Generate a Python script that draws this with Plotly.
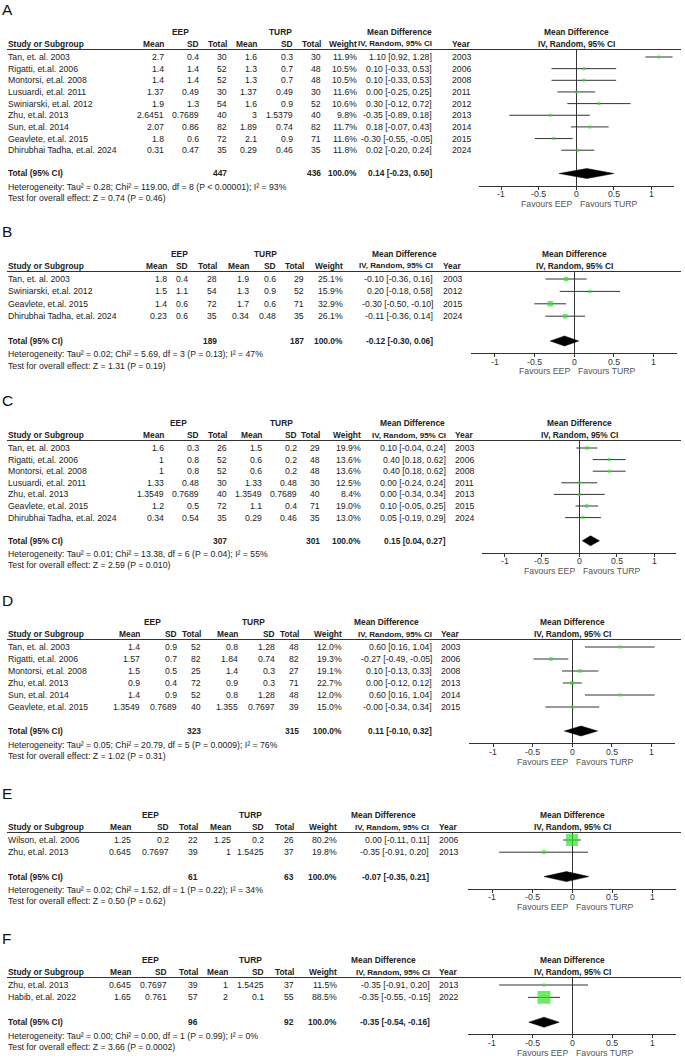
import plotly.graph_objects as go

W, H = 685, 1058
FONT = "Liberation Sans, Arial, sans-serif"

# ------------------------- DATA -------------------------
# Panel A
A_study = ["Tan, et. al. 2003", "Rigatti, et.al. 2006", "Montorsi, et.al. 2008", "Lusuardi, et.al. 2011",
           "Swiniarski, et.al. 2012", "Zhu, et.al. 2013", "Sun, et.al. 2014", "Geavlete, et.al. 2015",
           "Dhirubhai Tadha, et.al. 2024"]
A_eep_mean = ["2.7", "1.4", "1.4", "1.37", "1.9", "2.6451", "2.07", "1.8", "0.31"]
A_eep_sd = ["0.4", "1.4", "1.4", "0.49", "1.3", "0.7689", "0.86", "0.6", "0.47"]
A_eep_n = [30, 52, 52, 30, 54, 40, 82, 72, 35]
A_turp_mean = ["1.6", "1.3", "1.3", "1.37", "1.6", "3", "1.89", "2.1", "0.29"]
A_turp_sd = ["0.3", "0.7", "0.7", "0.49", "0.9", "1.5379", "0.74", "0.9", "0.46"]
A_turp_n = [30, 48, 48, 30, 52, 40, 82, 71, 35]
A_weight = [11.9, 10.5, 10.5, 11.6, 10.6, 9.8, 11.7, 11.6, 11.8]
A_md = [1.10, 0.10, 0.10, 0.00, 0.30, -0.35, 0.18, -0.30, 0.02]
A_lo = [0.92, -0.33, -0.33, -0.25, -0.12, -0.89, -0.07, -0.55, -0.20]
A_hi = [1.28, 0.53, 0.53, 0.25, 0.72, 0.18, 0.43, -0.05, 0.24]
A_year = [2003, 2006, 2008, 2011, 2012, 2013, 2014, 2015, 2024]
A_total_n = [447, 436]
A_total_ci = [0.14, -0.23, 0.50]
A_het = "Heterogeneity: Tau² = 0.28; Chi² = 119.00, df = 8 (P < 0.00001); I² = 93%"
A_test = "Test for overall effect: Z = 0.74 (P = 0.46)"

# Panel B
B_study = ["Tan, et. al. 2003", "Swiniarski, et.al. 2012", "Geavlete, et.al. 2015", "Dhirubhai Tadha, et.al. 2024"]
B_eep_mean = ["1.8", "1.5", "1.4", "0.23"]
B_eep_sd = ["0.4", "1.1", "0.6", "0.6"]
B_eep_n = [28, 54, 72, 35]
B_turp_mean = ["1.9", "1.3", "1.7", "0.34"]
B_turp_sd = ["0.6", "0.9", "0.6", "0.48"]
B_turp_n = [29, 52, 71, 35]
B_weight = [25.1, 15.9, 32.9, 26.1]
B_md = [-0.10, 0.20, -0.30, -0.11]
B_lo = [-0.36, -0.18, -0.50, -0.36]
B_hi = [0.16, 0.58, -0.10, 0.14]
B_year = [2003, 2012, 2015, 2024]
B_total_n = [189, 187]
B_total_ci = [-0.12, -0.30, 0.06]
B_het = "Heterogeneity: Tau² = 0.02; Chi² = 5.69, df = 3 (P = 0.13); I² = 47%"
B_test = "Test for overall effect: Z = 1.31 (P = 0.19)"

# Panel C
C_study = ["Tan, et. al. 2003", "Rigatti, et.al. 2006", "Montorsi, et.al. 2008", "Lusuardi, et.al. 2011",
           "Zhu, et.al. 2013", "Geavlete, et.al. 2015", "Dhirubhai Tadha, et.al. 2024"]
C_eep_mean = ["1.6", "1", "1", "1.33", "1.3549", "1.2", "0.34"]
C_eep_sd = ["0.3", "0.8", "0.8", "0.48", "0.7689", "0.5", "0.54"]
C_eep_n = [26, 52, 52, 30, 40, 72, 35]
C_turp_mean = ["1.5", "0.6", "0.6", "1.33", "1.3549", "1.1", "0.29"]
C_turp_sd = ["0.2", "0.2", "0.2", "0.48", "0.7689", "0.4", "0.46"]
C_turp_n = [29, 48, 48, 30, 40, 71, 35]
C_weight = [19.9, 13.6, 13.6, 12.5, 8.4, 19.0, 13.0]
C_md = [0.10, 0.40, 0.40, 0.00, 0.00, 0.10, 0.05]
C_lo = [-0.04, 0.18, 0.18, -0.24, -0.34, -0.05, -0.19]
C_hi = [0.24, 0.62, 0.62, 0.24, 0.34, 0.25, 0.29]
C_year = [2003, 2006, 2008, 2011, 2013, 2015, 2024]
C_total_n = [307, 301]
C_total_ci = [0.15, 0.04, 0.27]
C_het = "Heterogeneity: Tau² = 0.01; Chi² = 13.38, df = 6 (P = 0.04); I² = 55%"
C_test = "Test for overall effect: Z = 2.59 (P = 0.010)"

# Panel D
D_study = ["Tan, et. al. 2003", "Rigatti, et.al. 2006", "Montorsi, et.al. 2008", "Zhu, et.al. 2013",
           "Sun, et.al. 2014", "Geavlete, et.al. 2015"]
D_eep_mean = ["1.4", "1.57", "1.5", "0.9", "1.4", "1.3549"]
D_eep_sd = ["0.9", "0.7", "0.5", "0.4", "0.9", "0.7689"]
D_eep_n = [52, 82, 25, 72, 52, 40]
D_turp_mean = ["0.8", "1.84", "1.4", "0.9", "0.8", "1.355"]
D_turp_sd = ["1.28", "0.74", "0.3", "0.3", "1.28", "0.7697"]
D_turp_n = [48, 82, 27, 71, 48, 39]
D_weight = [12.0, 19.3, 19.1, 22.7, 12.0, 15.0]
D_md = [0.60, -0.27, 0.10, 0.00, 0.60, -0.00]
D_lo = [0.16, -0.49, -0.13, -0.12, 0.16, -0.34]
D_hi = [1.04, -0.05, 0.33, 0.12, 1.04, 0.34]
D_year = [2003, 2006, 2008, 2013, 2014, 2015]
D_total_n = [323, 315]
D_total_ci = [0.11, -0.10, 0.32]
D_het = "Heterogeneity: Tau² = 0.05; Chi² = 20.79, df = 5 (P = 0.0009); I² = 76%"
D_test = "Test for overall effect: Z = 1.02 (P = 0.31)"

# Panel E
E_study = ["Wilson, et.al. 2006", "Zhu, et.al. 2013"]
E_eep_mean = ["1.25", "0.645"]
E_eep_sd = ["0.2", "0.7697"]
E_eep_n = [22, 39]
E_turp_mean = ["1.25", "1"]
E_turp_sd = ["0.2", "1.5425"]
E_turp_n = [26, 37]
E_weight = [80.2, 19.8]
E_md = [0.00, -0.35]
E_lo = [-0.11, -0.91]
E_hi = [0.11, 0.20]
E_year = [2006, 2013]
E_total_n = [61, 63]
E_total_ci = [-0.07, -0.35, 0.21]
E_het = "Heterogeneity: Tau² = 0.02; Chi² = 1.52, df = 1 (P = 0.22); I² = 34%"
E_test = "Test for overall effect: Z = 0.50 (P = 0.62)"

# Panel F
F_study = ["Zhu, et.al. 2013", "Habib, et.al. 2022"]
F_eep_mean = ["0.645", "1.65"]
F_eep_sd = ["0.7697", "0.761"]
F_eep_n = [39, 57]
F_turp_mean = ["1", "2"]
F_turp_sd = ["1.5425", "0.1"]
F_turp_n = [37, 55]
F_weight = [11.5, 88.5]
F_md = [-0.35, -0.35]
F_lo = [-0.91, -0.55]
F_hi = [0.20, -0.15]
F_year = [2013, 2022]
F_total_n = [96, 92]
F_total_ci = [-0.35, -0.54, -0.16]
F_het = "Heterogeneity: Tau² = 0.00; Chi² = 0.00, df = 1 (P = 0.99); I² = 0%"
F_test = "Test for overall effect: Z = 3.66 (P = 0.0002)"

TICK_VALS = [-1, -0.5, 0, 0.5, 1]
TICK_TEXT = ["-1", "-0.5", "0", "0.5", "1"]

panels = [
    dict(label="A", study=A_study, em=A_eep_mean, es=A_eep_sd, en=A_eep_n, tm=A_turp_mean, ts=A_turp_sd,
         tn=A_turp_n, w=A_weight, md=A_md, lo=A_lo, hi=A_hi, year=A_year, tot_n=A_total_n, tot_ci=A_total_ci,
         het=A_het, test=A_test),
    dict(label="B", study=B_study, em=B_eep_mean, es=B_eep_sd, en=B_eep_n, tm=B_turp_mean, ts=B_turp_sd,
         tn=B_turp_n, w=B_weight, md=B_md, lo=B_lo, hi=B_hi, year=B_year, tot_n=B_total_n, tot_ci=B_total_ci,
         het=B_het, test=B_test),
    dict(label="C", study=C_study, em=C_eep_mean, es=C_eep_sd, en=C_eep_n, tm=C_turp_mean, ts=C_turp_sd,
         tn=C_turp_n, w=C_weight, md=C_md, lo=C_lo, hi=C_hi, year=C_year, tot_n=C_total_n, tot_ci=C_total_ci,
         het=C_het, test=C_test),
    dict(label="D", study=D_study, em=D_eep_mean, es=D_eep_sd, en=D_eep_n, tm=D_turp_mean, ts=D_turp_sd,
         tn=D_turp_n, w=D_weight, md=D_md, lo=D_lo, hi=D_hi, year=D_year, tot_n=D_total_n, tot_ci=D_total_ci,
         het=D_het, test=D_test),
    dict(label="E", study=E_study, em=E_eep_mean, es=E_eep_sd, en=E_eep_n, tm=E_turp_mean, ts=E_turp_sd,
         tn=E_turp_n, w=E_weight, md=E_md, lo=E_lo, hi=E_hi, year=E_year, tot_n=E_total_n, tot_ci=E_total_ci,
         het=E_het, test=E_test),
    dict(label="F", study=F_study, em=F_eep_mean, es=F_eep_sd, en=F_eep_n, tm=F_turp_mean, ts=F_turp_sd,
         tn=F_turp_n, w=F_weight, md=F_md, lo=F_lo, hi=F_hi, year=F_year, tot_n=F_total_n, tot_ci=F_total_ci,
         het=F_het, test=F_test),
]

# ------------------------- LAYOUT GEOMETRY (pixels) -------------------------
# r1: first study row, dy: row spacing, zero/unit: forest x mapping,
# cols: right edges of [EEP mean, sd, total, TURP mean, sd, total, weight, CI]
GEOM = {
    "A": dict(r1=57, dy=11.65, zero=576.3, unit=75.2, cols=[164, 199, 227, 257, 293, 321, 357, 432],
              year=452, eep=180, turp=280, mdc=400),
    "B": dict(r1=279, dy=12.4, zero=574.0, unit=79.3, cols=[167, 188, 217, 249, 276, 304, 343, 433],
              year=443, eep=179, turp=265, mdc=404),
    "C": dict(r1=448, dy=11.6, zero=579.3, unit=74.7, cols=[164, 199, 227, 262, 297, 320, 361, 446],
              year=455, eep=178, turp=281, mdc=413),
    "D": dict(r1=647, dy=12.0, zero=572.3, unit=79.2, cols=[140, 177, 201, 238, 275, 299, 342, 432],
              year=441, eep=152, turp=253, mdc=387),
    "E": dict(r1=840, dy=12.2, zero=572.0, unit=80.0, cols=[131, 169, 198, 231, 264, 294, 337, 429],
              year=439, eep=150, turp=250, mdc=383),
    "F": dict(r1=985, dy=12.4, zero=572.0, unit=80.0, cols=[131, 167, 198, 228, 264, 294, 337, 430],
              year=439, eep=150, turp=250, mdc=383),
}
XR = 1.3
TXT = "#222222"
GREEN = "#2fe32a"
FS = 8.7       # table text
FSB = 8.4      # bold headers
FSH = 8.7      # heterogeneity lines

ann = []
shapes = []
fig = go.Figure()


def px(x):
    return x / W


def py(y):
    return 1 - y / H


def txt(x, y, s, anchor="left", size=FS, bold=False, color=TXT):
    ann.append(dict(x=px(x), y=py(y), xref="paper", yref="paper",
                    text=f"<b>{s}</b>" if bold else s, showarrow=False,
                    xanchor=anchor, yanchor="middle", borderpad=0, borderwidth=0,
                    font=dict(family=FONT, size=size, color=color)))


def fmt_ci(m, l, h):
    return f"{m:.2f} [{l:.2f}, {h:.2f}]"


for k, p in enumerate(panels, start=1):
    g = GEOM[p["label"]]
    n = len(p["study"])
    r1, dy = g["r1"], g["dy"]
    rowy = lambda r: r1 + r * dy
    T = rowy(n + 1)
    line_y = r1 - 7.5
    axis_y = T + 12
    c = g["cols"]

    # panel label and headers
    txt(2, r1 - 47, p["label"], size=15.5, color="#111")
    txt(g["eep"], r1 - 25, "EEP", anchor="center", size=FSB, bold=True)
    txt(g["turp"], r1 - 25, "TURP", anchor="center", size=FSB, bold=True)
    txt(g["mdc"], r1 - 25, "Mean Difference", anchor="center", size=FSB, bold=True)
    txt(g["zero"], r1 - 25, "Mean Difference", anchor="center", size=FSB, bold=True)
    txt(8, r1 - 13, "Study or Subgroup", size=FSB, bold=True)
    hdrs = ["Mean", "SD", "Total", "Mean", "SD", "Total", "Weight", "IV, Random, 95% CI"]
    for j, (xc, s) in enumerate(zip(c, hdrs)):
        txt(xc, r1 - 13, s, anchor="right", size=(8.0 if j == 7 else FSB), bold=True)
    txt(g["year"], r1 - 13, "Year", size=FSB, bold=True)
    txt(g["zero"], r1 - 13, "IV, Random, 95% CI", anchor="center", size=FSB, bold=True)
    shapes.append(dict(type="line", xref="paper", yref="paper", x0=px(7), x1=px(681),
                       y0=py(line_y), y1=py(line_y), line=dict(color="#333", width=1)))

    # rows
    for i in range(n):
        y = rowy(i)
        txt(8, y, p["study"][i])
        vals = [p["em"][i], p["es"][i], str(p["en"][i]), p["tm"][i], p["ts"][i], str(p["tn"][i]),
                f"{p['w'][i]:.1f}%", fmt_ci(p["md"][i], p["lo"][i], p["hi"][i])]
        for xc, s in zip(c, vals):
            txt(xc, y, s, anchor="right")
        txt(g["year"], y, str(p["year"][i]))

    # total row
    txt(8, T, "Total (95% CI)", size=FSB, bold=True)
    txt(c[2], T, str(p["tot_n"][0]), anchor="right", size=FSB, bold=True)
    txt(c[5], T, str(p["tot_n"][1]), anchor="right", size=FSB, bold=True)
    txt(c[6], T, "100.0%", anchor="right", size=FSB, bold=True)
    txt(c[7], T, fmt_ci(*p["tot_ci"]), anchor="right", size=FSB, bold=True)
    txt(8, T + 13.5, p["het"], size=FSH)
    txt(8, T + 24.5, p["test"], size=FSH)

    # tick labels and favours labels
    for v, s in zip(TICK_VALS, TICK_TEXT):
        txt(g["zero"] + v * g["unit"], axis_y + 8.5, s, anchor="center", size=8.7, color="#333")
    txt(g["zero"] - 4, axis_y + 18.5, "Favours EEP", anchor="right", size=8.7, color="#555")
    txt(g["zero"] + 4, axis_y + 18.5, "Favours TURP", anchor="left", size=8.7, color="#555")

    # axes
    xa = "x" if k == 1 else f"x{k}"
    ya = "y" if k == 1 else f"y{k}"
    x0p = g["zero"] - XR * g["unit"]
    x1p = g["zero"] + XR * g["unit"]
    r_top = (line_y - r1) / dy
    r_bot = (axis_y - r1) / dy
    fig.layout[f"xaxis{'' if k == 1 else k}"] = dict(
        domain=[px(x0p), px(x1p)], range=[-XR, XR], anchor=ya,
        showline=True, linecolor="#333", linewidth=1, mirror=False,
        ticks="outside", ticklen=3, tickcolor="#333", tickwidth=1,
        tickvals=TICK_VALS, showticklabels=False,
        showgrid=False, zeroline=True, zerolinecolor="#333", zerolinewidth=1,
        fixedrange=True)
    fig.layout[f"yaxis{'' if k == 1 else k}"] = dict(
        domain=[py(axis_y), py(line_y)], range=[r_bot, r_top], anchor=xa,
        visible=False, showgrid=False, zeroline=False, fixedrange=True)

    # CI lines
    cx, cy = [], []
    for i in range(n):
        cx += [p["lo"][i], p["hi"][i], None]
        cy += [i, i, None]
    fig.add_trace(go.Scatter(x=cx, y=cy, mode="lines", line=dict(color="#333", width=1),
                             xaxis=xa, yaxis=ya, hoverinfo="skip", showlegend=False))
    # boxes (size proportional to weight)
    sizes = [max(3.0, 1 + 0.135 * w) for w in p["w"]]
    fig.add_trace(go.Scatter(x=p["md"], y=list(range(n)), mode="markers",
                             marker=dict(symbol="square", size=sizes, color=GREEN, line=dict(width=0)),
                             xaxis=xa, yaxis=ya, showlegend=False))
    # diamond
    m, l, h = p["tot_ci"]
    hh = 5.0 / dy
    fig.add_trace(go.Scatter(x=[l, m, h, m, l], y=[n + 1, n + 1 - hh, n + 1, n + 1 + hh, n + 1],
                             mode="lines", fill="toself", fillcolor="black",
                             line=dict(color="black", width=0.5),
                             xaxis=xa, yaxis=ya, hoverinfo="skip", showlegend=False))

fig.update_layout(width=W, height=H, margin=dict(l=0, r=0, t=0, b=0),
                  paper_bgcolor="white", plot_bgcolor="white",
                  annotations=ann, shapes=shapes, showlegend=False,
                  font=dict(family=FONT, size=FS, color=TXT))
fig.write_html("out.html", config={"displayModeBar": False},
               post_script="document.body.style.margin='0px';document.body.style.overflow='hidden';")
